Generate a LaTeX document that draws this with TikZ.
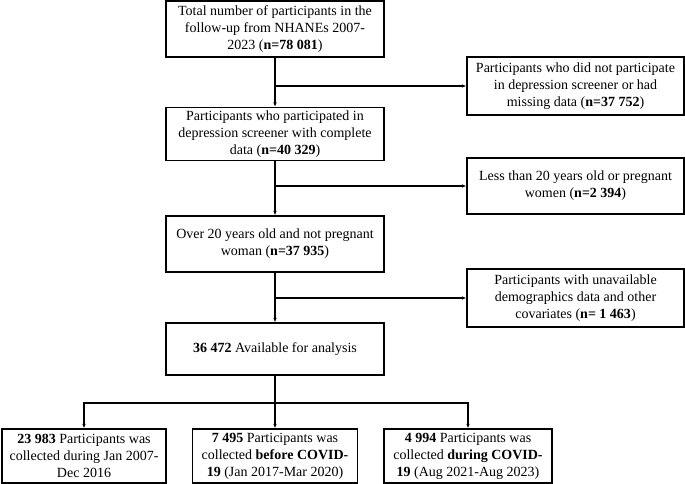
\documentclass[tikz,border=0pt]{standalone}
\usepackage{fontspec}
\setmainfont{Liberation Serif}
\usetikzlibrary{arrows.meta}
\begin{document}
\begin{tikzpicture}[x=1pt,y=1pt,
  box/.style={draw, line width=1.1pt, align=center, inner sep=0pt,
    font=\fontsize{14}{17}\selectfont},
  arr/.style={line width=1.1pt, -{Latex[length=4.5pt,width=3.5pt]}},
  ln/.style={line width=1.1pt}]
\useasboundingbox (0,0) rectangle (685,484);
% main column
\node[box, minimum width=218, minimum height=56] (b1) at (275,455)
  {Total number of participants in the\\follow-up from NHANEs 2007-\\2023 (\textbf{n=78 081})};
\node[box, minimum width=218, minimum height=53] (b2) at (275,350)
  {Participants who participated in\\depression screener with complete\\data (\textbf{n=40 329})};
\node[box, minimum width=218, minimum height=56] (b3) at (275,240)
  {Over 20 years old and not pregnant\\woman (\textbf{n=37 935})};
\node[box, minimum width=218, minimum height=52] (b4) at (275,135)
  {\textbf{36 472} Available for analysis};
% right column
\node[box, minimum width=217, minimum height=58] (r1) at (575.5,398)
  {Participants who did not participate\\in depression screener or had\\missing data (\textbf{n=37 752})};
\node[box, minimum width=217, minimum height=56] (r2) at (575.5,298)
  {Less than 20 years old or pregnant\\women (\textbf{n=2 394})};
\node[box, minimum width=217, minimum height=58] (r3) at (575.5,186)
  {Participants with unavailable\\demographics data and other\\covariates (\textbf{n= 1 463})};
% bottom row
\node[box, minimum width=164, minimum height=54] (ba) at (84,28)
  {\textbf{23 983} Participants was\\collected during Jan 2007-\\Dec 2016};
\node[box, minimum width=165, minimum height=54] (bb) at (275,28)
  {\textbf{7 495} Participants was\\collected \textbf{before COVID-}\\\textbf{19} (Jan 2017-Mar 2020)};
\node[box, minimum width=168, minimum height=54] (bc) at (468,28)
  {\textbf{4 994} Participants was\\collected \textbf{during COVID-}\\\textbf{19} (Aug 2021-Aug 2023)};
% junctions
\coordinate (j1) at (b1.south |- r1.west);
\coordinate (j2) at (b2.south |- r2.west);
\coordinate (j3) at (b3.south |- r3.west);
\coordinate (j4) at (275,81);
% connectors
\draw[arr] (b1.south) -- (b2.north);
\draw[arr] (j1) -- (r1.west);
\draw[arr] (b2.south) -- (b3.north);
\draw[arr] (j2) -- (r2.west);
\draw[arr] (b3.south) -- (b4.north);
\draw[arr] (j3) -- (r3.west);
\draw[ln] (b4.south) -- (j4);
\draw[arr] (j4) -- (bb.north);
\draw[arr] (j4) -| (ba.north);
\draw[arr] (j4) -| (bc.north);
\end{tikzpicture}
\end{document}
